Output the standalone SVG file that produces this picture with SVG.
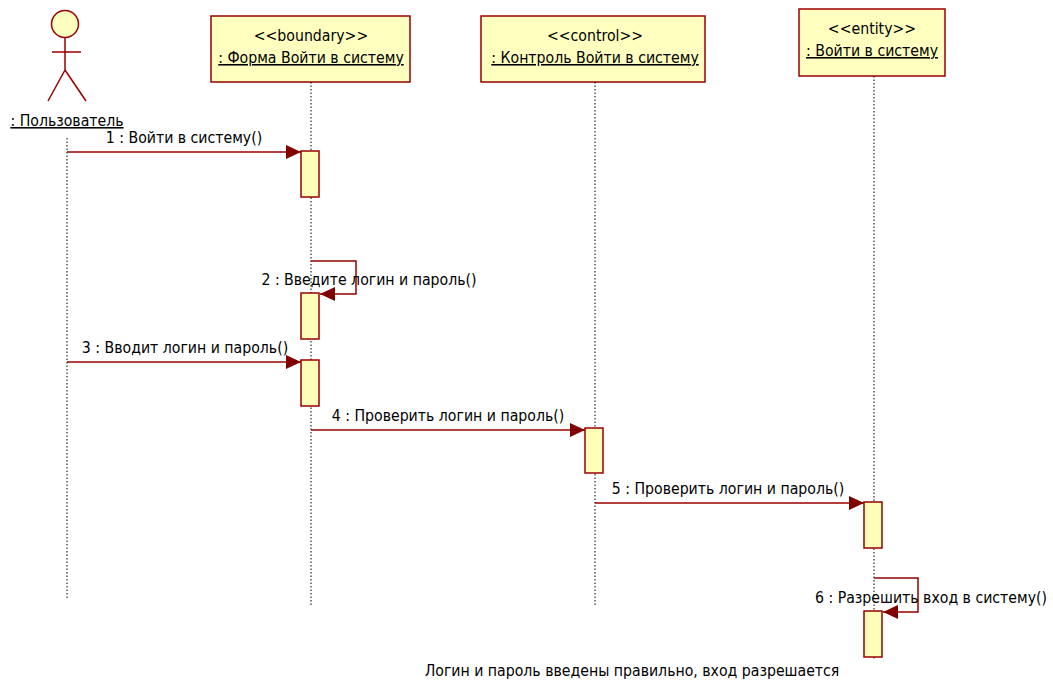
<svg xmlns="http://www.w3.org/2000/svg" width="1053" height="684" viewBox="0 0 1053 684">
<defs>
<style>
.box{fill:#FFFFC0;stroke:#990000;stroke-width:1.5}
.act{fill:#FFFFB9;stroke:#990000;stroke-width:1.5}
.life{stroke:#000;stroke-width:1;stroke-dasharray:1.5 2;fill:none}
.msg{stroke:#990000;stroke-width:1.5;fill:none}
.actor{stroke:#990000;stroke-width:1.5;fill:none}
text{font-family:"DejaVu Sans Condensed","Liberation Sans",sans-serif;font-size:15.7px;fill:#000}
.c{text-anchor:middle}
.u{text-decoration:underline}
</style>
<marker id="arr" viewBox="0 0 15 14" refX="15" refY="7" markerWidth="15" markerHeight="14" markerUnits="userSpaceOnUse" orient="auto">
<path d="M0,0 L15,7 L0,14 Z" fill="#800000"/>
</marker>
</defs>
<rect width="1053" height="684" fill="#fff"/>

<g id="actor-user">
<circle cx="65" cy="24" r="13.5" fill="#FFFFC0" stroke="#990000" stroke-width="1.5"/>
<path class="actor" d="M65,38 V70 M52,52 H81 M65,70 L48,101 M65,70 L86,101"/>
<text x="67" y="126" class="c u">: Пользователь</text>
<line class="life" x1="67" y1="138" x2="67" y2="598"/>
</g>

<g id="boundary">
<rect class="box" x="211" y="16" width="199" height="66"/>
<text x="311" y="41" class="c">&lt;&lt;boundary&gt;&gt;</text>
<text x="311" y="63" class="c u">: Форма Войти в систему</text>
<line class="life" x1="311" y1="82" x2="311" y2="605"/>
</g>

<g id="control">
<rect class="box" x="481" y="16" width="224" height="66"/>
<text x="595" y="41" class="c">&lt;&lt;control&gt;&gt;</text>
<text x="595" y="63" class="c u">: Контроль Войти в систему</text>
<line class="life" x1="595" y1="82" x2="595" y2="605"/>
</g>

<g id="entity">
<rect class="box" x="799" y="9" width="146" height="67"/>
<text x="872" y="34" class="c">&lt;&lt;entity&gt;&gt;</text>
<text x="872" y="56" class="c u">: Войти в систему</text>
<line class="life" x1="874" y1="76" x2="874" y2="660"/>
</g>

<g id="activations">
<rect class="act" x="301" y="151" width="18" height="46"/>
<rect class="act" x="301" y="293" width="18" height="46"/>
<rect class="act" x="301" y="360" width="18" height="46"/>
<rect class="act" x="585" y="428" width="18" height="45"/>
<rect class="act" x="864" y="502" width="18" height="46"/>
<rect class="act" x="864" y="611" width="18" height="46"/>
</g>

<g id="connectors">
<line class="msg" x1="67" y1="152" x2="301" y2="152" marker-end="url(#arr)"/>
<text x="184" y="143" class="c">1 : Войти в систему()</text>
<path class="msg" d="M311,261 H356 V294 H320" marker-end="url(#arr)"/>
<text x="369" y="285" class="c">2 : Введите логин и пароль()</text>
<line class="msg" x1="67" y1="362" x2="301" y2="362" marker-end="url(#arr)"/>
<text x="185" y="353" class="c">3 : Вводит логин и пароль()</text>
<line class="msg" x1="311" y1="430" x2="585" y2="430" marker-end="url(#arr)"/>
<text x="448" y="421" class="c">4 : Проверить логин и пароль()</text>
<line class="msg" x1="595" y1="503" x2="864" y2="503" marker-end="url(#arr)"/>
<text x="728" y="494" class="c">5 : Проверить логин и пароль()</text>
<path class="msg" d="M874,578 H918 V612 H883" marker-end="url(#arr)"/>
<text x="931" y="603" class="c">6 : Разрешить вход в систему()</text>
</g>

<text x="632" y="676" class="c">Логин и пароль введены правильно, вход разрешается</text>
</svg>
